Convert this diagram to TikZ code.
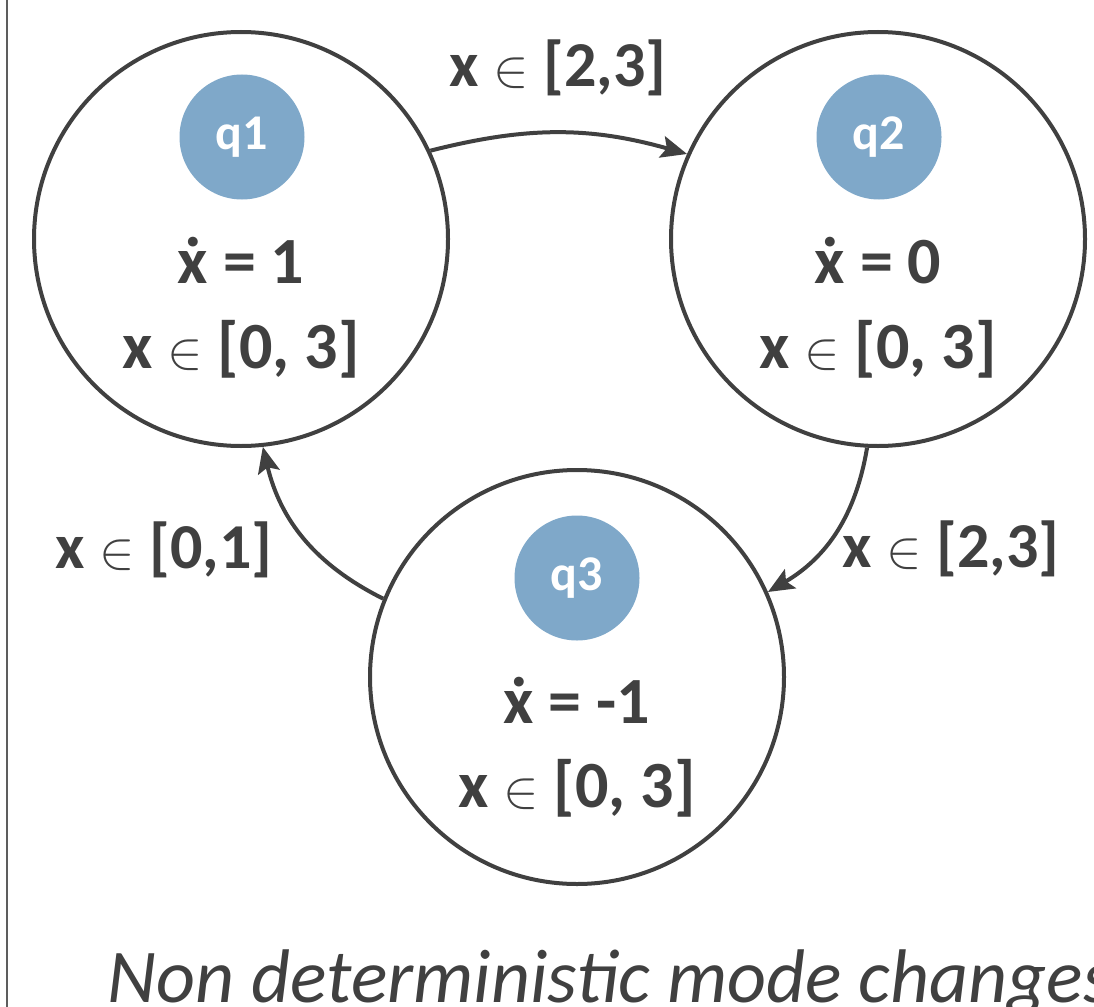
\documentclass[tikz,border=0pt]{standalone}
\usepackage{fontspec}
\setmainfont{Carlito}
\usetikzlibrary{arrows.meta}
\definecolor{ink}{HTML}{404040}
\definecolor{qblue}{HTML}{7FA8C9}
\newcommand{\elt}{{\fontsize{10}{12}\selectfont\scalebox{5.3}{$\in$}}}
\newcommand{\xd}{\ooalign{x\cr\hidewidth\raisebox{0.56em}{.}\hidewidth\cr}}
\tikzset{
  state/.style={circle, draw=ink, line width=4pt, minimum size=414pt, inner sep=0pt},
  tag/.style={circle, fill=qblue, minimum size=125pt, inner sep=0pt, text=white,
    font=\fontsize{50}{50}\selectfont\bfseries},
  txt/.style={anchor=base, inner sep=0pt, text=ink, font=\fontsize{66}{66}\selectfont\bfseries},
  lbl/.style={anchor=base, inner sep=0pt, text=ink, font=\fontsize{64}{64}\selectfont\bfseries},
  arr/.style={draw=ink, line width=4pt, -{Stealth[length=26pt,width=22pt,inset=5pt]}},
}
\begin{document}
\begin{tikzpicture}[x=1pt,y=-1pt]
\useasboundingbox (0,0) rectangle (1094,1006);
\draw[line width=2pt, draw=ink!85] (7,-5) -- (7,1011);
% states
\node[state] (q1) at (241,239) {};
\node[state] (q2) at (878,239) {};
\node[state] (q3) at (577,677) {};
% tags
\node[tag] (t1) at (242,137) {q1};
\node[tag] (t2) at (879,137) {q2};
\node[tag] (t3) at (577,578) {q3};
% contents
\node[txt] (d1) at (241,283) {\xd{} = 1};
\node[txt] (i1) at (241,368) {x \elt{} [0, 3]};
\node[txt] (d2) at (878,283) {\xd{} = 0};
\node[txt] (i2) at (878,368) {x \elt{} [0, 3]};
\node[txt] (d3) at (577,723) {\xd{} = -1};
\node[txt] (i3) at (577,807) {x \elt{} [0, 3]};
% edges
\draw[arr] (q1.25.6) to[bend left=15] (q2.156);
\draw[arr] (q2.267) to[bend left=25] (q3.24);
\draw[arr] (q3.158.6) to[bend left=25] (q1.276.5);
% edge labels
\node[lbl] (l12) at (558,87) {x \elt{} [2,3]};
\node[lbl] (l23) at (951,567) {x \elt{} [2,3]};
\node[lbl] (l31) at (164,568) {x \elt{} [0,1]};
% caption
\node[anchor=base west, inner sep=0pt, text=ink, font=\fontsize{76}{76}\selectfont\itshape] (cap) at (107,1002) {Non deterministic mode changes};
\end{tikzpicture}
\end{document}
